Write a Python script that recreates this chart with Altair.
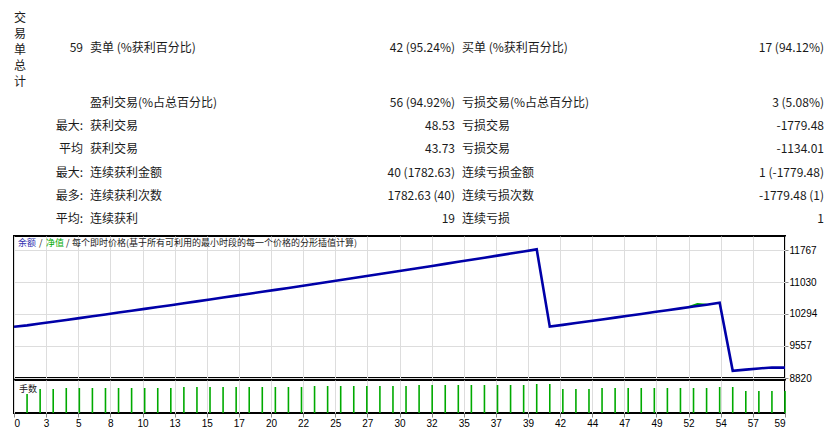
import altair as alt
import pandas as pd

# ---- 统计表 ----
side_title = "交易单总计"
row_keys = ["59", "", "最大:", "平均", "最大:", "最多:", "平均:"]
left_labels = ["卖单 (%获利百分比)", "盈利交易(%占总百分比)", "获利交易", "获利交易",
               "连续获利金额", "连续获利次数", "连续获利"]
left_values = ["42 (95.24%)", "56 (94.92%)", "48.53", "43.73",
               "40 (1782.63)", "1782.63 (40)", "19"]
right_labels = ["买单 (%获利百分比)", "亏损交易(%占总百分比)", "亏损交易", "亏损交易",
                "连续亏损金额", "连续亏损次数", "连续亏损"]
right_values = ["17 (94.12%)", "3 (5.08%)", "-1779.48", "-1134.01",
                "1 (-1779.48)", "-1779.48 (1)", "1"]

# ---- 余额曲线 (交易序号 0..59) ----
balance = [10000.0, 10032.3, 10073.1, 10113.9, 10156.4, 10198.9, 10241.4, 10283.9,
           10326.4, 10368.9, 10411.4, 10453.9, 10496.4, 10540.6, 10584.8, 10629.0,
           10673.2, 10717.4, 10761.6, 10805.8, 10850.0, 10894.2, 10938.4, 10984.3,
           11030.2, 11076.1, 11122.0, 11167.9, 11213.8, 11259.7, 11305.6, 11353.2,
           11400.8, 11448.4, 11496.0, 11543.6, 11591.2, 11638.8, 11686.4, 11734.0,
           11782.6, 10003.1, 10043.9, 10084.7, 10125.5, 10168.0, 10210.5, 10253.0,
           10295.5, 10338.0, 10380.5, 10423.0, 10465.5, 10508.0, 10552.2, 8985.0,
           9012.0, 9040.0, 9062.0, 9058.0]
equity_x = [51.6, 52.3, 53.0]
equity = [10448, 10525, 10508]

# ---- 手数 (交易 1..59) ----
lots = [0.19, 0.24, 0.24] + [0.25] * 9 + [0.26] * 10 + [0.27] * 8 + [0.28] * 9 + \
       [0.29, 0.29, 0.24, 0.24, 0.24] + [0.25] * 9 + [0.26, 0.26] + [0.22] * 4

y_ticks = [8820, 9557, 10294, 11030, 11767]
x_tick_labels = ["0", "3", "5", "8", "10", "13", "15", "17", "20", "22", "25", "27", "30",
                 "32", "35", "37", "39", "42", "44", "47", "49", "52", "54", "57", "59"]

CJK = "Noto Sans CJK SC"
INK = "#1a1a1a"
BLUE = "#0000a8"
GREEN = "#00aa00"
W = 771
frame = alt.ViewBackground(stroke="#000000", strokeWidth=2)

# 表格
rows = pd.DataFrame({"line": range(len(row_keys)), "key": row_keys,
                     "ll": left_labels, "lv": left_values,
                     "rl": right_labels, "rv": right_values})
y_line = alt.Y("line:Q", scale=alt.Scale(domain=[0, 1, 6], range=[38, 93, 209]), axis=None)
tbase = alt.Chart(rows).encode(y=y_line)
tstyle = dict(font=CJK, fontSize=12, color=INK, baseline="middle")
table = alt.layer(
    tbase.mark_text(align="right", **tstyle).encode(x=alt.value(69), text="key:N"),
    tbase.mark_text(align="left", **tstyle).encode(x=alt.value(76), text="ll:N"),
    tbase.mark_text(align="right", **tstyle).encode(x=alt.value(441), text="lv:N"),
    tbase.mark_text(align="left", **tstyle).encode(x=alt.value(448), text="rl:N"),
    tbase.mark_text(align="right", **tstyle).encode(x=alt.value(810), text="rv:N"),
    alt.Chart(pd.DataFrame({"t": ["\n".join(side_title)]})).mark_text(
        align="left", lineBreak="\n", lineHeight=16, dy=-30, **tstyle
    ).encode(x=alt.value(0), y=alt.datum(0), text="t:N"),
).properties(width=W, height=224, view=alt.ViewBackground(strokeOpacity=0))

# 余额 / 净值 面板
x_grid = [k * 59 / 24 for k in range(25)]
x_top = alt.X("trade:Q", scale=alt.Scale(domain=[0, 59], nice=False),
              axis=alt.Axis(values=x_grid, labels=False, ticks=False, domain=False,
                            grid=True, title=None))
y_bal = alt.Y("balance:Q", scale=alt.Scale(domain=[8820, 12090], nice=False, zero=False),
              axis=alt.Axis(orient="right", values=y_ticks, format="d", title=None,
                            tickSize=3, labelPadding=1, domain=False))

bal_df = pd.DataFrame({"trade": range(len(balance)), "balance": balance})
eq_df = pd.DataFrame({"trade": equity_x, "balance": equity})

eq_line = alt.Chart(eq_df).mark_line(color=GREEN, strokeWidth=2, clip=True).encode(
    x=x_top, y=y_bal)
bal_line = alt.Chart(bal_df).mark_line(color=BLUE, strokeWidth=2.6, clip=True).encode(
    x=x_top, y=y_bal)

title_parts = [("余额", "#3030b0", 4), ("/", INK, 25), ("净值", GREEN, 32),
               ("/", INK, 52), ("每个即时价格(基于所有可利用的最小时段的每一个价格的分形插值计算)", INK, 58)]
title_layers = [
    alt.Chart(pd.DataFrame({"t": [t]})).mark_text(
        align="left", baseline="middle", font=CJK, fontSize=9, color=c
    ).encode(x=alt.value(px), y=alt.value(7), text="t:N")
    for t, c, px in title_parts
]

balance_panel = alt.layer(eq_line, bal_line, *title_layers).properties(
    width=W, height=142, view=frame)

# 手数 面板
label_expr = "[" + ",".join(f"'{s}'" for s in x_tick_labels) + "][round(datum.index * 24)]"
x_bot = alt.X("trade:Q", scale=alt.Scale(domain=[0, 59], nice=False),
              axis=alt.Axis(values=x_grid, labelExpr=label_expr, grid=True, tickSize=4,
                            labelPadding=1, labelOverlap=False, labelFlush=True,
                            domain=False, title=None))
lot_df = pd.DataFrame({"trade": range(1, len(lots) + 1), "lot": lots})
lot_bars = alt.Chart(lot_df).mark_rule(color=GREEN, strokeWidth=1.6).encode(
    x=x_bot,
    y=alt.Y("lot:Q", scale=alt.Scale(domain=[0, 0.33], nice=False), axis=None),
    y2=alt.datum(0),
)
lot_title = alt.Chart(pd.DataFrame({"t": ["手数"]})).mark_text(
    align="left", baseline="middle", font=CJK, fontSize=9, color=INK
).encode(x=alt.value(5), y=alt.value(9), text="t:N")

lots_panel = alt.layer(lot_bars, lot_title).properties(width=W, height=33, view=frame)

chart = alt.vconcat(table, balance_panel, lots_panel, spacing=2, bounds="flush").properties(
    padding={"left": 4, "top": 2, "right": 0, "bottom": 0}
).configure_axis(
    labelFont="Liberation Sans", labelFontSize=10, labelColor="#000000",
    tickColor="#000000", gridColor="#c4c4c4", gridDash=[3, 3], gridWidth=1
).configure(background="white")

chart.save("out.html", embed_options={"renderer": "svg", "actions": False})
